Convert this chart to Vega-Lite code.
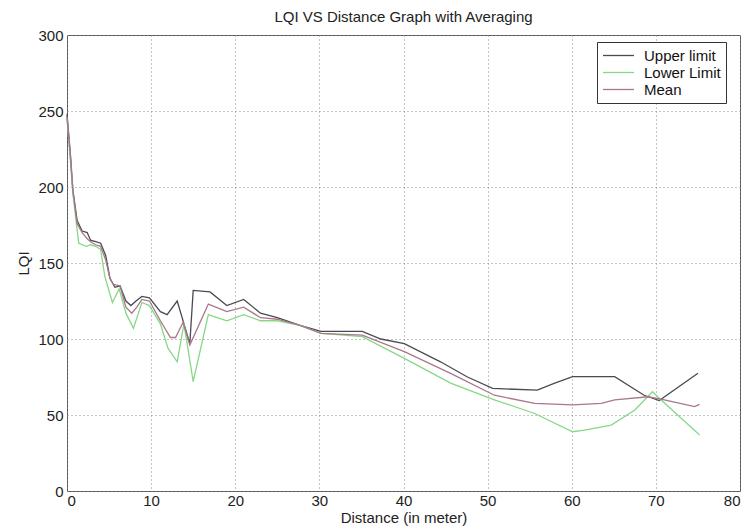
{
  "$schema": "https://vega.github.io/schema/vega-lite/v6.json",
  "width": 673,
  "height": 456,
  "autosize": {"type": "none"},
  "padding": {"left": 67, "top": 35, "right": 8, "bottom": 36},
  "background": "white",
  "title": {
    "text": "LQI VS Distance Graph with Averaging",
    "font": "Liberation Sans",
    "fontSize": 15,
    "fontWeight": "normal",
    "color": "#222222",
    "frame": "group",
    "offset": 3
  },
  "config": {
    "view": {"stroke": "#555555", "strokeWidth": 1},
    "axis": {
      "grid": true,
      "gridDash": [1, 3],
      "gridColor": "#8a8a8a",
      "gridOpacity": 1,
      "domain": false,
      "ticks": false,
      "labelFont": "Liberation Sans",
      "labelFontSize": 15,
      "labelColor": "#222222",
      "titleFont": "Liberation Sans",
      "titleFontSize": 15,
      "titleFontWeight": "normal",
      "titleColor": "#222222"
    }
  },
  "data": {
    "values": [
      {"series": "Upper limit", "d": 0, "lqi": 248},
      {"series": "Upper limit", "d": 0.4, "lqi": 222},
      {"series": "Upper limit", "d": 0.7, "lqi": 198},
      {"series": "Upper limit", "d": 1.2, "lqi": 178},
      {"series": "Upper limit", "d": 1.8, "lqi": 171},
      {"series": "Upper limit", "d": 2.4, "lqi": 170},
      {"series": "Upper limit", "d": 2.8, "lqi": 165},
      {"series": "Upper limit", "d": 3.4, "lqi": 164},
      {"series": "Upper limit", "d": 4.0, "lqi": 163},
      {"series": "Upper limit", "d": 4.6, "lqi": 155},
      {"series": "Upper limit", "d": 5.1, "lqi": 140},
      {"series": "Upper limit", "d": 5.7, "lqi": 134},
      {"series": "Upper limit", "d": 6.3, "lqi": 135},
      {"series": "Upper limit", "d": 7.0, "lqi": 125},
      {"series": "Upper limit", "d": 7.6, "lqi": 122},
      {"series": "Upper limit", "d": 8.2, "lqi": 125},
      {"series": "Upper limit", "d": 8.9, "lqi": 128},
      {"series": "Upper limit", "d": 9.8, "lqi": 127},
      {"series": "Upper limit", "d": 11.1, "lqi": 118},
      {"series": "Upper limit", "d": 11.9, "lqi": 116},
      {"series": "Upper limit", "d": 13.1, "lqi": 125},
      {"series": "Upper limit", "d": 14.6, "lqi": 97},
      {"series": "Upper limit", "d": 15.0, "lqi": 132},
      {"series": "Upper limit", "d": 17.0, "lqi": 131},
      {"series": "Upper limit", "d": 19.0, "lqi": 122},
      {"series": "Upper limit", "d": 21.0, "lqi": 126},
      {"series": "Upper limit", "d": 23.0, "lqi": 117},
      {"series": "Upper limit", "d": 25.0, "lqi": 114},
      {"series": "Upper limit", "d": 27.7, "lqi": 109},
      {"series": "Upper limit", "d": 30.2, "lqi": 105},
      {"series": "Upper limit", "d": 35.1, "lqi": 105},
      {"series": "Upper limit", "d": 37.3, "lqi": 100},
      {"series": "Upper limit", "d": 40.1, "lqi": 97},
      {"series": "Upper limit", "d": 44.4, "lqi": 85},
      {"series": "Upper limit", "d": 47.6, "lqi": 75},
      {"series": "Upper limit", "d": 50.6, "lqi": 67.5},
      {"series": "Upper limit", "d": 55.9, "lqi": 66.4},
      {"series": "Upper limit", "d": 57.9, "lqi": 70.8},
      {"series": "Upper limit", "d": 60.1, "lqi": 75.2},
      {"series": "Upper limit", "d": 65.1, "lqi": 75.2},
      {"series": "Upper limit", "d": 68.6, "lqi": 63},
      {"series": "Upper limit", "d": 70.4, "lqi": 59.5},
      {"series": "Upper limit", "d": 75.0, "lqi": 77.5},

      {"series": "Lower Limit", "d": 0, "lqi": 245},
      {"series": "Lower Limit", "d": 0.4, "lqi": 218},
      {"series": "Lower Limit", "d": 0.7, "lqi": 196},
      {"series": "Lower Limit", "d": 1.2, "lqi": 172},
      {"series": "Lower Limit", "d": 1.4, "lqi": 163},
      {"series": "Lower Limit", "d": 2.3, "lqi": 161},
      {"series": "Lower Limit", "d": 2.8, "lqi": 162},
      {"series": "Lower Limit", "d": 3.4, "lqi": 161},
      {"series": "Lower Limit", "d": 4.0, "lqi": 159},
      {"series": "Lower Limit", "d": 4.5, "lqi": 141},
      {"series": "Lower Limit", "d": 5.4, "lqi": 124},
      {"series": "Lower Limit", "d": 6.2, "lqi": 133},
      {"series": "Lower Limit", "d": 7.0, "lqi": 117},
      {"series": "Lower Limit", "d": 7.9, "lqi": 107},
      {"series": "Lower Limit", "d": 8.9, "lqi": 124},
      {"series": "Lower Limit", "d": 9.8, "lqi": 122},
      {"series": "Lower Limit", "d": 11.1, "lqi": 110},
      {"series": "Lower Limit", "d": 12.0, "lqi": 94},
      {"series": "Lower Limit", "d": 13.1, "lqi": 85},
      {"series": "Lower Limit", "d": 13.9, "lqi": 110},
      {"series": "Lower Limit", "d": 15.0, "lqi": 72},
      {"series": "Lower Limit", "d": 16.8, "lqi": 116},
      {"series": "Lower Limit", "d": 19.0, "lqi": 112},
      {"series": "Lower Limit", "d": 21.0, "lqi": 116},
      {"series": "Lower Limit", "d": 23.0, "lqi": 112},
      {"series": "Lower Limit", "d": 25.0, "lqi": 112},
      {"series": "Lower Limit", "d": 27.7, "lqi": 109},
      {"series": "Lower Limit", "d": 30.2, "lqi": 103.7},
      {"series": "Lower Limit", "d": 35.1, "lqi": 101.5},
      {"series": "Lower Limit", "d": 40.1, "lqi": 87.3},
      {"series": "Lower Limit", "d": 45.6, "lqi": 71},
      {"series": "Lower Limit", "d": 50.8, "lqi": 60},
      {"series": "Lower Limit", "d": 55.6, "lqi": 51},
      {"series": "Lower Limit", "d": 60.1, "lqi": 39},
      {"series": "Lower Limit", "d": 61.5, "lqi": 40},
      {"series": "Lower Limit", "d": 64.7, "lqi": 43.4},
      {"series": "Lower Limit", "d": 67.5, "lqi": 53.3},
      {"series": "Lower Limit", "d": 69.6, "lqi": 65.3},
      {"series": "Lower Limit", "d": 70.6, "lqi": 60},
      {"series": "Lower Limit", "d": 75.2, "lqi": 36.8},

      {"series": "Mean", "d": 0, "lqi": 246},
      {"series": "Mean", "d": 0.4, "lqi": 220},
      {"series": "Mean", "d": 0.7, "lqi": 197},
      {"series": "Mean", "d": 1.2, "lqi": 176},
      {"series": "Mean", "d": 1.8, "lqi": 170},
      {"series": "Mean", "d": 2.4, "lqi": 166},
      {"series": "Mean", "d": 2.8, "lqi": 164},
      {"series": "Mean", "d": 3.4, "lqi": 162},
      {"series": "Mean", "d": 4.0, "lqi": 161},
      {"series": "Mean", "d": 4.6, "lqi": 152},
      {"series": "Mean", "d": 5.1, "lqi": 140},
      {"series": "Mean", "d": 5.5, "lqi": 136},
      {"series": "Mean", "d": 6.3, "lqi": 135},
      {"series": "Mean", "d": 7.0, "lqi": 121},
      {"series": "Mean", "d": 7.7, "lqi": 117},
      {"series": "Mean", "d": 8.3, "lqi": 121},
      {"series": "Mean", "d": 8.9, "lqi": 126},
      {"series": "Mean", "d": 9.8, "lqi": 125},
      {"series": "Mean", "d": 11.1, "lqi": 112},
      {"series": "Mean", "d": 12.3, "lqi": 101},
      {"series": "Mean", "d": 12.9, "lqi": 101},
      {"series": "Mean", "d": 13.8, "lqi": 111},
      {"series": "Mean", "d": 14.6, "lqi": 96},
      {"series": "Mean", "d": 16.8, "lqi": 123},
      {"series": "Mean", "d": 19.0, "lqi": 118},
      {"series": "Mean", "d": 21.0, "lqi": 121},
      {"series": "Mean", "d": 23.0, "lqi": 114},
      {"series": "Mean", "d": 25.0, "lqi": 113},
      {"series": "Mean", "d": 27.7, "lqi": 109},
      {"series": "Mean", "d": 30.2, "lqi": 103.7},
      {"series": "Mean", "d": 35.1, "lqi": 102.6},
      {"series": "Mean", "d": 40.1, "lqi": 91.7},
      {"series": "Mean", "d": 45.6, "lqi": 77.4},
      {"series": "Mean", "d": 50.8, "lqi": 63},
      {"series": "Mean", "d": 55.6, "lqi": 57.7},
      {"series": "Mean", "d": 60.1, "lqi": 56.6},
      {"series": "Mean", "d": 63.5, "lqi": 57.7},
      {"series": "Mean", "d": 65.1, "lqi": 59.9},
      {"series": "Mean", "d": 69.1, "lqi": 62},
      {"series": "Mean", "d": 71.0, "lqi": 60},
      {"series": "Mean", "d": 74.6, "lqi": 55.5},
      {"series": "Mean", "d": 75.2, "lqi": 57}
    ]
  },
  "mark": {"type": "line", "strokeWidth": 1.3},
  "encoding": {
    "x": {
      "field": "d",
      "type": "quantitative",
      "scale": {"domain": [0, 80], "nice": false, "zero": false},
      "axis": {
        "values": [0, 10, 20, 30, 40, 50, 60, 70, 80],
        "title": "Distance (in meter)",
        "labelPadding": 2,
        "titlePadding": 2
      }
    },
    "y": {
      "field": "lqi",
      "type": "quantitative",
      "scale": {"domain": [0, 300], "nice": false},
      "axis": {
        "values": [0, 50, 100, 150, 200, 250, 300],
        "title": "LQI",
        "labelPadding": 4,
        "titlePadding": 6
      }
    },
    "color": {
      "field": "series",
      "type": "nominal",
      "scale": {
        "domain": ["Upper limit", "Lower Limit", "Mean"],
        "range": ["#4a4a55", "#86d886", "#a8788a"]
      },
      "legend": {
        "orient": "none",
        "legendX": 530,
        "legendY": 7,
        "title": null,
        "symbolType": "M-2,0H2",
        "symbolSize": 240,
        "symbolStrokeWidth": 1.3,
        "symbolFillColor": "transparent",
        "symbolOffset": 8,
        "labelFont": "Liberation Sans",
        "labelFontSize": 15,
        "labelColor": "#111111",
        "labelOffset": 17,
        "strokeColor": "#333333",
        "fillColor": "white",
        "padding": 5,
        "rowPadding": -2
      }
    }
  }
}
